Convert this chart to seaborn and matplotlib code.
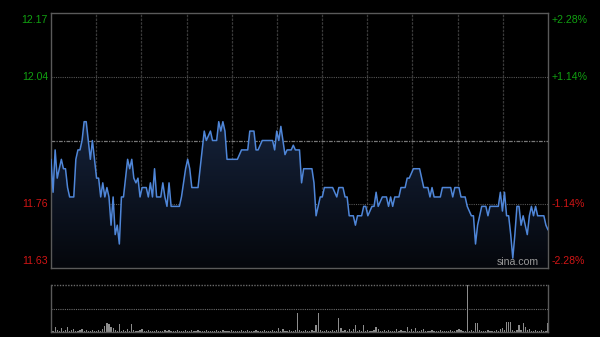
import numpy as np
import pandas as pd
import matplotlib
matplotlib.use("Agg")
import matplotlib.pyplot as plt
import seaborn as sns
from matplotlib.colors import to_rgb

# ---------------- data ----------------
prev_close = 11.90
y_ticks = [11.629, 11.764, 12.036, 12.171]
left_labels = ["11.63", "11.76", "12.04", "12.17"]
right_labels = ["-2.28%", "-1.14%", "+1.14%", "+2.28%"]

minutes = [0, 1, 2, 3, 5, 6, 7, 8, 9, 11, 12, 13, 14, 15, 16, 17, 19, 20, 22, 23,
           24, 25, 26, 27, 28, 29, 30, 31, 32, 33, 34, 35, 37, 38, 39, 40, 41, 42, 43, 44,
           46, 47, 48, 49, 50, 51, 53, 54, 55, 56, 57, 58, 62, 63, 65, 66, 67, 68, 71, 72,
           73, 74, 75, 77, 78, 80, 81, 82, 83, 84, 85, 90, 92, 95, 96, 98, 99, 100, 102, 107,
           108, 109, 110, 111, 112, 113, 114, 116, 117, 118, 120, 121, 122, 126, 127, 128, 130, 131, 132, 136,
           138, 139, 141, 142, 143, 144, 146, 147, 148, 150, 151, 152, 153, 155, 156, 157, 158, 160, 162, 163,
           164, 165, 166, 168, 169, 171, 172, 173, 175, 178, 180, 182, 183, 184, 185, 188, 189, 193, 194, 195,
           197, 198, 200, 201, 203, 204, 205, 206, 207, 208, 210, 211, 212, 216, 217, 218, 219, 220, 221, 222,
           223, 224, 225, 226, 227, 228, 230, 231, 232, 233, 234, 235, 238, 239, 240]
prices = [11.86, 11.79, 11.88, 11.82, 11.86, 11.84, 11.84, 11.80, 11.78, 11.78, 11.86, 11.88, 11.88, 11.90, 11.94, 11.94, 11.86, 11.90, 11.82, 11.82,
          11.78, 11.81, 11.78, 11.80, 11.78, 11.72, 11.78, 11.70, 11.72, 11.68, 11.78, 11.78, 11.86, 11.84, 11.86, 11.82, 11.81, 11.82, 11.78, 11.80,
          11.80, 11.78, 11.81, 11.78, 11.84, 11.78, 11.78, 11.81, 11.78, 11.76, 11.81, 11.76, 11.76, 11.78, 11.84, 11.86, 11.84, 11.80, 11.80, 11.84,
          11.88, 11.92, 11.90, 11.92, 11.90, 11.90, 11.94, 11.92, 11.94, 11.92, 11.86, 11.86, 11.88, 11.88, 11.92, 11.92, 11.88, 11.88, 11.90, 11.90,
          11.88, 11.92, 11.90, 11.93, 11.90, 11.87, 11.88, 11.88, 11.89, 11.88, 11.88, 11.81, 11.84, 11.84, 11.81, 11.74, 11.78, 11.78, 11.80, 11.80,
          11.78, 11.80, 11.80, 11.78, 11.78, 11.74, 11.74, 11.72, 11.74, 11.74, 11.76, 11.76, 11.74, 11.76, 11.76, 11.79, 11.76, 11.78, 11.78, 11.76,
          11.78, 11.76, 11.78, 11.78, 11.80, 11.80, 11.82, 11.82, 11.84, 11.84, 11.80, 11.80, 11.78, 11.80, 11.78, 11.78, 11.80, 11.80, 11.78, 11.80,
          11.80, 11.78, 11.78, 11.76, 11.74, 11.74, 11.68, 11.72, 11.74, 11.76, 11.76, 11.74, 11.76, 11.76, 11.79, 11.75, 11.79, 11.74, 11.74, 11.70,
          11.65, 11.70, 11.76, 11.76, 11.72, 11.74, 11.70, 11.74, 11.76, 11.74, 11.76, 11.74, 11.74, 11.72, 11.71]

volumes = [2, 1, 5, 2, 1, 4, 1, 2, 5, 1, 2, 3, 1, 1, 2, 3, 1, 2, 1, 1,
           2, 1, 1, 2, 1, 3, 6, 9, 8, 5, 4, 2, 1, 8, 1, 2, 1, 3, 1, 8,
           2, 1, 1, 2, 3, 1, 1, 2, 1, 1, 1, 2, 1, 1, 1, 2, 1, 2, 1, 1,
           1, 2, 1, 1, 1, 2, 1, 1, 2, 1, 1, 2, 1, 1, 1, 2, 1, 1, 1, 1,
           2, 1, 1, 2, 1, 1, 1, 2, 1, 1, 1, 1, 2, 1, 1, 2, 1, 1, 1, 2,
           1, 1, 1, 2, 1, 1, 1, 2, 1, 1, 4, 1, 3, 1, 1, 2, 1, 1, 2, 19,
           2, 1, 1, 2, 1, 1, 2, 1, 7, 19, 2, 1, 1, 2, 1, 1, 2, 1, 2, 14,
           4, 1, 2, 1, 3, 1, 3, 7, 1, 2, 1, 7, 1, 2, 1, 1, 2, 5, 3, 1,
           1, 2, 1, 2, 1, 1, 1, 3, 1, 2, 1, 1, 5, 1, 3, 1, 4, 1, 1, 2,
           3, 1, 1, 1, 2, 1, 1, 1, 2, 1, 1, 1, 1, 2, 1, 1, 2, 3, 2, 1,
           1, 47, 1, 2, 1, 9, 9, 2, 1, 1, 1, 2, 1, 1, 1, 2, 1, 3, 4, 2,
           10, 10, 10, 2, 1, 2, 7, 2, 9, 5, 2, 3, 1, 1, 2, 1, 1, 2, 1, 1,
           9]

# ---------------- style ----------------
sns.set_theme(style="dark")
plt.rcParams["font.family"] = ["Liberation Sans", "DejaVu Sans"]
BG = "#000000"
GREEN = "#11a011"
RED = "#d01515"
SPINE = "#5a5a5a"
LINE = "#4f86d8"

fig = plt.figure(figsize=(6.0, 3.37), dpi=100, facecolor=BG)
ax = fig.add_axes([51 / 600, 1 - 268 / 337, 497 / 600, 255 / 337])
axv = fig.add_axes([51 / 600, 1 - 332 / 337, 497 / 600, 47 / 337])

for a in (ax, axv):
    a.set_facecolor(BG)
    a.grid(False)

ymin, ymax = y_ticks[0], y_ticks[-1]
ax.set_xlim(0, 240)
ax.set_ylim(ymin, ymax)

# vertical grid lines
for k in range(1, 11):
    xv = 240 * k / 11
    ax.axvline(xv, color="#3a3a3a", lw=0.9, ls=(0, (2, 1)), zorder=0.5)
# horizontal grid lines
for yv in (y_ticks[1], y_ticks[2]):
    ax.axhline(yv, color="#555555", lw=0.8, ls=(0, (1, 1)), zorder=0.6)
ax.axhline(prev_close, color="#7a7a7a", lw=0.9, ls=(0, (3, 1, 1, 1)), zorder=0.6)

# gradient fill under line
df = pd.DataFrame({"minute": minutes, "price": prices})
poly = ax.fill_between(df["minute"], df["price"], ymin, color="none", lw=0)
top_c = np.array(to_rgb("#15223a"))
bot_c = np.array(to_rgb("#05070c"))
t = np.linspace(0, 1, 256)[:, None]
grad = (bot_c[None, :] * (1 - t) + top_c[None, :] * t)[:, None, :]
im = ax.imshow(grad, extent=[0, 240, ymin, max(prices)], aspect="auto",
               origin="lower", zorder=1, interpolation="bilinear")
im.set_clip_path(poly.get_paths()[0], transform=ax.transData)
ax.set_xlim(0, 240)
ax.set_ylim(ymin, ymax)

sns.lineplot(data=df, x="minute", y="price", ax=ax, color=LINE, lw=1.1, zorder=3)
ax.set_xlabel("")
ax.set_ylabel("")
ax.set_xticks([])
ax.set_yticks([])

for s in ax.spines.values():
    s.set_visible(True)
    s.set_color(SPINE)
    s.set_linewidth(1.0)

# tick labels
for i, (yv, ll, rl) in enumerate(zip(y_ticks, left_labels, right_labels)):
    c = GREEN if yv > prev_close else RED
    va = "center"
    if i == 0:
        va = "bottom"
    elif i == len(y_ticks) - 1:
        va = "top"
    yy = yv
    if i == 0:
        yy = yv + 0.004
    if i == len(y_ticks) - 1:
        yy = yv - 0.004
    ax.text(-0.006, yy, ll, transform=ax.get_yaxis_transform(), ha="right", va=va,
            color=c, fontsize=7.6)
    ax.text(1.008, yy, rl, transform=ax.get_yaxis_transform(), ha="left", va=va,
            color=c, fontsize=7.6)

ax.text(0.94, 0.025, "sina.com", transform=ax.transAxes, ha="center", va="center",
        color="#9a9a9a", fontsize=7.6, zorder=4)

# volume panel
vx = np.arange(len(volumes))
axv.bar(vx, volumes, width=0.6, color="#8c8c8c", lw=0, zorder=2)
axv.set_xlim(0, 240)
axv.set_ylim(0, max(volumes))
axv.set_xticks([])
axv.set_yticks([])
axv.axhline(max(volumes) / 2, color="#6a6a6a", lw=0.8, ls=(0, (1, 1)), zorder=1)
axv.axhline(max(volumes), color="#6a6a6a", lw=1.0, ls=(0, (1, 1)), zorder=1, clip_on=False)
for name, s in axv.spines.items():
    s.set_color(SPINE)
    s.set_linewidth(1.0)
    s.set_visible(name != "top")

fig.savefig("out.png", dpi=100, facecolor=BG)
